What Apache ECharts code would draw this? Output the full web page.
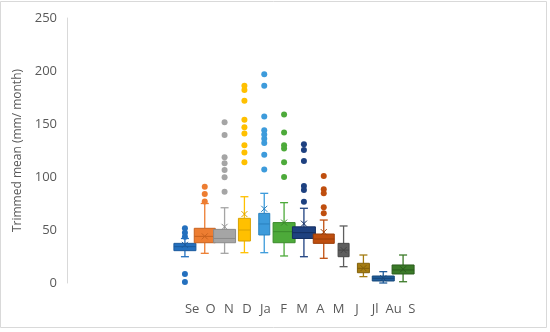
<!DOCTYPE html>
<html>
<head>
<meta charset="utf-8">
<script src="https://cdn.jsdelivr.net/npm/echarts@6/dist/echarts.min.js"></script>
<style>
html,body{margin:0;padding:0;background:#fff;}
#chart{width:550px;height:332px;}
</style>
</head>
<body>
<div id="chart"></div>
<script>
// ---------- DATA ----------
const boxMonths = ['Se','O','N','D','Ja','F','M','A','M2','J','Jl','S'];
const tickLabels = ['Se','O','N','D','Ja','F','M','A','M','J','Jl','Au','S'];
const yTicks = [0, 50, 100, 150, 200, 250];

const lowWhisker  = [24.8, 28.0, 28.0, 28.6, 28.6, 25.5, 24.8, 23.3, 15.4,  6.0,  0.0,  1.2];
const q1          = [30.5, 38.0, 38.0, 39.6, 45.3, 38.0, 42.0, 37.4, 24.8,  9.7,  1.9,  8.5];
const median      = [34.3, 44.0, 42.0, 50.0, 55.7, 48.4, 47.5, 41.5, 31.0, 13.8,  4.4, 12.3];
const q3          = [37.4, 51.6, 50.6, 61.0, 65.7, 57.0, 53.0, 46.2, 37.4, 18.6,  6.6, 17.0];
const highWhisker = [42.0, 75.0, 71.0, 81.4, 84.6, 75.8, 70.5, 59.4, 53.8, 26.4, 10.7, 26.4];
const meanValues  = [36.0, 44.0, 53.0, 65.0, 70.0, 57.0, 56.0, 48.0, 31.0, 14.0,  4.5, 13.0];

const outliersSe = [51.6, 47.5, 43.7, 8.5, 1];
const outliersO  = [90.8, 84, 77];
const outliersN  = [151.6, 139.6, 118.6, 113, 106.6, 99.7, 86];
const outliersD  = [186, 182, 172, 154, 147, 141, 130, 123, 114];
const outliersJa = [197, 186, 157, 144, 140, 136, 132, 121, 107];
const outliersF  = [159, 142, 130, 127, 114, 100];
const outliersM  = [131, 125.5, 115, 91.5, 87.7, 76.7];
const outliersA  = [101, 88.4, 84.6, 71.4, 65.7];
const outliersMay = [];
const outliersJ  = [];
const outliersJl = [];
const outliersS  = [];

// ---------- STYLE ----------
const COLORS = ['#2470BE','#ED7D31','#A5A5A5','#FFC000','#3D9BDB','#4DAA3A',
                '#1E4180','#BF4E0E','#5E5E5E','#A47C12','#1F5C9A','#3B7A28'];
const BORDERS = ['#1A5A9E','#C8621E','#8A8A8A','#D9A200','#2A80BD','#3A8A2A',
                 '#142E60','#9A3C08','#454545','#82600A','#16487A','#2A5C1C'];
const BOX_W = [22, 21, 22, 12, 11, 22, 23, 21, 11, 12, 22, 22];
const CAP_W = 8;
const FONT = '"Open Sans", "Liberation Sans", sans-serif';
const TXT = '#595959';

const allOutliers = [outliersSe, outliersO, outliersN, outliersD, outliersJa, outliersF,
                     outliersM, outliersA, outliersMay, outliersJ, outliersJl, outliersS];

const boxData = boxMonths.map((m, i) =>
  [i, lowWhisker[i], q1[i], median[i], q3[i], highWhisker[i], meanValues[i]]);

const outlierData = [];
allOutliers.forEach((arr, i) => arr.forEach(v => outlierData.push([i, v])));

function renderBox(params, api) {
  const i = api.value(0);
  const pLow = api.coord([i, api.value(1)]);
  const pQ1 = api.coord([i, api.value(2)]);
  const pMed = api.coord([i, api.value(3)]);
  const pQ3 = api.coord([i, api.value(4)]);
  const pHigh = api.coord([i, api.value(5)]);
  const pMean = api.coord([i, api.value(6)]);
  const x = pMed[0];
  const hw = BOX_W[i] / 2;
  const cw = CAP_W / 2;
  const col = COLORS[i], bc = BORDERS[i];
  const ls = { stroke: col, lineWidth: 1.3 };
  const mk = 3;
  return {
    type: 'group',
    children: [
      { type: 'line', shape: { x1: x, y1: pLow[1], x2: x, y2: pQ1[1] }, style: ls },
      { type: 'line', shape: { x1: x, y1: pQ3[1], x2: x, y2: pHigh[1] }, style: ls },
      { type: 'line', shape: { x1: x - cw, y1: pLow[1], x2: x + cw, y2: pLow[1] }, style: ls },
      { type: 'line', shape: { x1: x - cw, y1: pHigh[1], x2: x + cw, y2: pHigh[1] }, style: ls },
      { type: 'rect', shape: { x: x - hw, y: pQ3[1], width: hw * 2, height: pQ1[1] - pQ3[1] },
        style: { fill: col, stroke: bc, lineWidth: 1 } },
      { type: 'line', shape: { x1: x - hw, y1: pMed[1], x2: x + hw, y2: pMed[1] },
        style: { stroke: bc, lineWidth: 1 } },
      { type: 'line', shape: { x1: x - mk, y1: pMean[1] - mk, x2: x + mk, y2: pMean[1] + mk },
        style: { stroke: bc, lineWidth: 1 } },
      { type: 'line', shape: { x1: x - mk, y1: pMean[1] + mk, x2: x + mk, y2: pMean[1] - mk },
        style: { stroke: bc, lineWidth: 1 } }
    ]
  };
}

const chart = echarts.init(document.getElementById('chart'), null, { renderer: 'canvas' });
chart.setOption({
  animation: false,
  backgroundColor: '#fff',
  graphic: [{
    type: 'rect', shape: { x: 0.5, y: 1.5, width: 546, height: 326 },
    style: { fill: 'none', stroke: '#D9D9D9', lineWidth: 1 }, silent: true
  }],
  grid: [
    { left: 175, right: 137, top: 18, bottom: 49 },
    { left: 183, right: 129, top: 18, bottom: 49 }
  ],
  xAxis: [
    { type: 'category', gridIndex: 0, data: boxMonths, boundaryGap: true,
      axisLine: { show: false }, axisTick: { show: false }, axisLabel: { show: false },
      splitLine: { show: false } },
    { type: 'category', gridIndex: 1, data: tickLabels, boundaryGap: true,
      axisLine: { show: false }, axisTick: { show: false },
      axisLabel: { color: TXT, fontFamily: FONT, fontSize: 13, margin: 20, interval: 0 },
      splitLine: { show: false } }
  ],
  yAxis: [
    { type: 'value', gridIndex: 0, min: 0, max: 250, interval: 50, offset: 108,
      name: 'Trimmed mean (mm/ month)', nameLocation: 'middle', nameGap: 43,
      nameTextStyle: { color: TXT, fontFamily: FONT, fontSize: 12 },
      axisLine: { show: true, lineStyle: { color: '#D9D9D9', width: 1 } },
      axisTick: { show: false },
      axisLabel: { color: TXT, fontFamily: FONT, fontSize: 13, margin: 10,
                   formatter: v => (yTicks.indexOf(v) >= 0 ? String(v) : '') },
      splitLine: { show: false } },
    { type: 'value', gridIndex: 1, min: 0, max: 250, show: false, splitLine: { show: false } }
  ],
  series: [
    { type: 'custom', xAxisIndex: 0, yAxisIndex: 0, data: boxData, renderItem: renderBox, z: 2 },
    { type: 'scatter', xAxisIndex: 0, yAxisIndex: 0, data: outlierData, symbolSize: 6, z: 3,
      itemStyle: { color: p => COLORS[p.value[0]], opacity: 1 } }
  ]
});
</script>
</body>
</html>
